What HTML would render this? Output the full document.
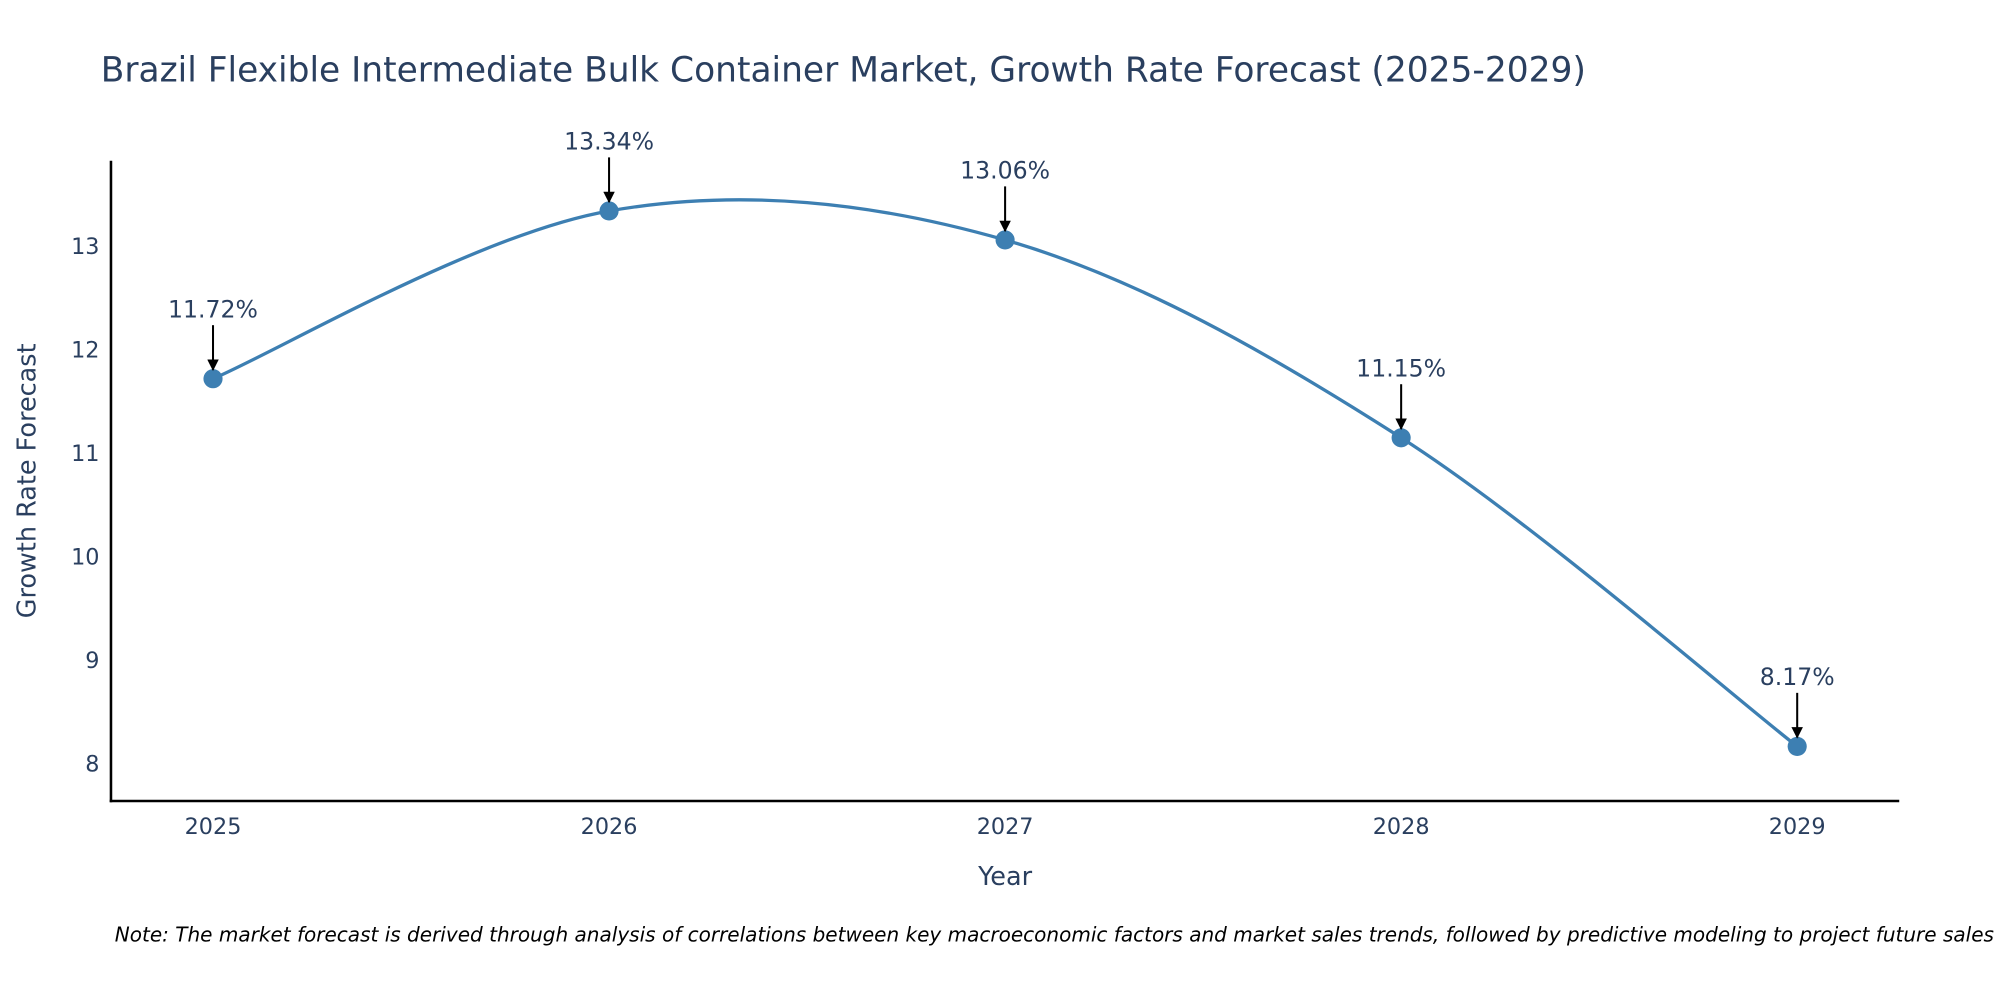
<!DOCTYPE html>
<html><head><meta charset="utf-8"><style>
html,body{margin:0;padding:0;background:#fff;}
svg{display:block;font-family:"DejaVu Sans","Liberation Sans",sans-serif;}
</style></head><body>
<svg id="chart" width="2000" height="1000" viewBox="0 0 1568 784" xmlns="http://www.w3.org/2000/svg">
<defs><marker id="ah" viewBox="0 0 10 10" refX="9" refY="5" markerWidth="9" markerHeight="9" markerUnits="userSpaceOnUse" orient="auto"><path d="M0,0 L10,5 L0,10 z" fill="#000"/></marker></defs>
<text x="79" y="64" font-size="27" fill="#2a3f5f">Brazil Flexible Intermediate Bulk Container Market, Growth Rate Forecast (2025-2029)</text>
<g id="axes"></g>
<g id="plot"></g>
<text x="788" y="694" font-size="20" fill="#2a3f5f" text-anchor="middle">Year</text>
<text transform="translate(28,377) rotate(-90)" font-size="20" fill="#2a3f5f" text-anchor="middle">Growth Rate Forecast</text>
<text x="90" y="738" font-size="15.7" font-style="italic" fill="#000">Note: The market forecast is derived through analysis of correlations between key macroeconomic factors and market sales trends, followed by predictive modeling to project future sales</text>
</svg>
<script>
const years = ["2025","2026","2027","2028","2029"];
const growth = [11.72, 13.34, 13.06, 11.15, 8.17];
const labels = ["11.72%","13.34%","13.06%","11.15%","8.17%"];
const yTicks = [8, 9, 10, 11, 12, 13];

const NS = "http://www.w3.org/2000/svg";
const xs = i => 167 + i * (1409 - 167) / (years.length - 1);
const ys = v => 599 - (v - 8) * (599 - 193) / 5;
function mk(tag, attrs, parent){const e=document.createElementNS(NS,tag);for(const k in attrs)e.setAttribute(k,attrs[k]);parent.appendChild(e);return e;}
const axes=document.getElementById('axes'), plot=document.getElementById('plot');

let yl=mk('line',{x1:87,y1:126,x2:87,y2:629,stroke:'#000','stroke-width':2},axes);


let xl=mk('line',{x1:86,y1:628,x2:1489,y2:628,stroke:'#000','stroke-width':2},axes);



yTicks.forEach(t=>{
  const e=mk('text',{x:78,y:ys(t)+6,'font-size':17.5,fill:'#2a3f5f','text-anchor':'end'},axes);
  e.textContent=t;
  
  
});
years.forEach((y,i)=>{
  const e=mk('text',{x:xs(i),y:654,'font-size':17.5,fill:'#2a3f5f','text-anchor':'middle'},axes);
  e.textContent=y;
  
  
});

// Catmull-Rom spline
const P=growth.map((v,i)=>[xs(i),ys(v)]);
let d=`M${P[0][0]},${P[0][1]}`;
for(let i=0;i<P.length-1;i++){
  const p0=P[Math.max(0,i-1)],p1=P[i],p2=P[i+1],p3=P[Math.min(P.length-1,i+2)];
  const c1=[p1[0]+(p2[0]-p0[0])/6,p1[1]+(p2[1]-p0[1])/6];
  const c2=[p2[0]-(p3[0]-p1[0])/6,p2[1]-(p3[1]-p1[1])/6];
  d+=` C${c1[0]},${c1[1]} ${c2[0]},${c2[1]} ${p2[0]},${p2[1]}`;
}
const line=mk('path',{d:d,fill:'none',stroke:'#3d7fb2','stroke-width':2.6},plot);



growth.forEach((v,i)=>{
  const x=xs(i),y=ys(v);
  const c=mk('circle',{cx:x,cy:y,r:7.5,fill:'#3d7fb2'},plot);
  
  
  const a=mk('line',{x1:x,y1:y-42,x2:x,y2:y-7,stroke:'#000','stroke-width':1.6,'marker-end':'url(#ah)'},plot);
  
  
  const t=mk('text',{x:x,y:y-48,'font-size':18.5,fill:'#2a3f5f','text-anchor':'middle'},plot);
  t.textContent=labels[i];
  
  
});
</script>
</body></html>
